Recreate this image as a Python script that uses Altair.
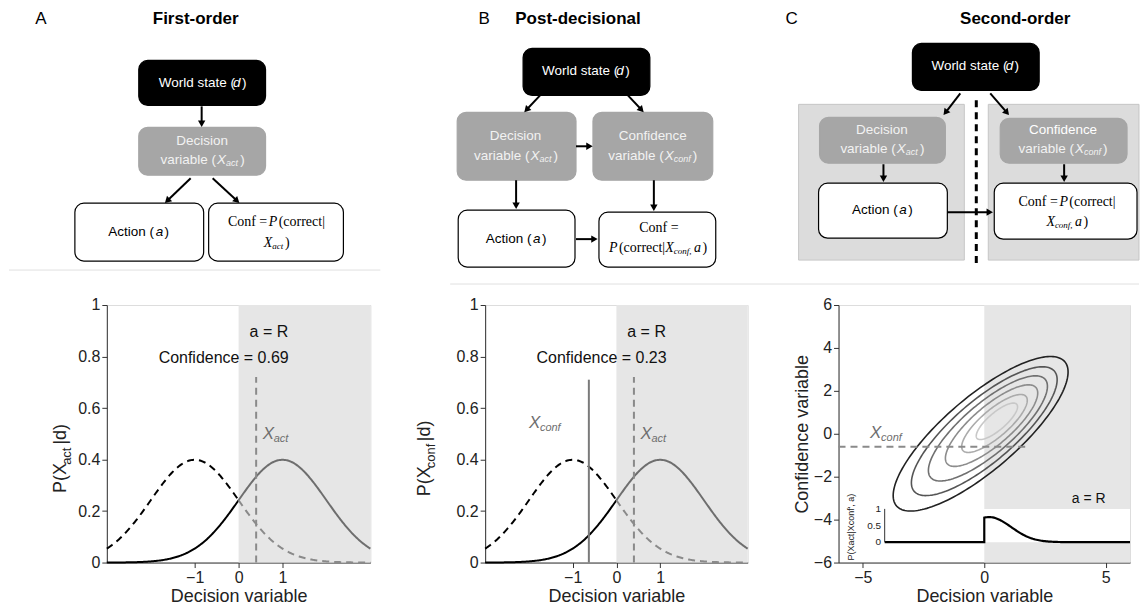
import altair as alt
import numpy as np
import pandas as pd
import math

FONT = "Liberation Sans"
SERIF = "Liberation Serif"

# ---------------- data ----------------
mu_R, mu_L, sd = 1.0, -1.0, 1.0
xact_A = 0.4
conf_A = "Confidence = 0.69"
conf_B = "Confidence = 0.23"
xconf_B = -0.63
xact_B = 0.4
yticks = [0, 0.2, 0.4, 0.6, 0.8, 1]
xticks_AB = [-1, 0, 1]
xticks_C = [-5, 0, 5]
yticks_C = [-6, -4, -2, 0, 2, 4, 6]
rho = 0.8
ell_r = [3.6, 3.0, 2.45, 1.9, 1.35, 0.85]
ell_cx = [-0.15, 0.0, 0.15, 0.3, 0.42, 0.52]
ell_cy = [0.0, 0.12, 0.25, 0.38, 0.48, 0.58]
ell_col = ["#222222", "#555555", "#707070", "#8c8c8c", "#ababab", "#c8c8c8"]
xconf_C = -0.6
post_mu, post_sd = 0.2, 0.9
inset_ticks = [0, 0.5, 1]

# ---------------- top diagrams (page pixel space) ----------------
boxes = pd.DataFrame([
    dict(x=138, x2=265, y=60, y2=105, fill="#000000", stroke="#000000"),
    dict(x=138, x2=265, y=127, y2=175, fill="#a6a6a6", stroke="#a6a6a6"),
    dict(x=74, x2=203, y=203, y2=261, fill="#ffffff", stroke="#000000"),
    dict(x=208, x2=343, y=203, y2=261, fill="#ffffff", stroke="#000000"),
    dict(x=523, x2=650, y=48, y2=95, fill="#000000", stroke="#000000"),
    dict(x=457, x2=576, y=112, y2=180, fill="#a6a6a6", stroke="#a6a6a6"),
    dict(x=593, x2=713, y=112, y2=180, fill="#a6a6a6", stroke="#a6a6a6"),
    dict(x=458, x2=575, y=210, y2=267, fill="#ffffff", stroke="#000000"),
    dict(x=599, x2=716, y=212, y2=267, fill="#ffffff", stroke="#000000"),
    dict(x=913, x2=1040, y=43, y2=90, fill="#000000", stroke="#000000"),
    dict(x=820, x2=946, y=117, y2=163, fill="#a6a6a6", stroke="#a6a6a6"),
    dict(x=1001, x2=1128, y=118, y2=163, fill="#a6a6a6", stroke="#a6a6a6"),
    dict(x=819, x2=948, y=183, y2=238, fill="#ffffff", stroke="#000000"),
    dict(x=995, x2=1138, y=183, y2=239, fill="#ffffff", stroke="#000000"),
])
panels = pd.DataFrame([
    dict(x=799, x2=965, y=104, y2=260),
    dict(x=989, x2=1140, y=104, y2=260),
])
arrows = [
    (201, 106, 201, 127), (190, 178, 164, 203), (212, 178, 239, 203),
    (540, 95, 524, 112), (628, 95, 644, 112), (576, 146, 593, 146),
    (516, 180, 516, 209), (654, 180, 654, 211), (576, 239, 598, 239),
    (961, 93, 944, 115), (991, 93, 1010, 115), (884, 164, 884, 182),
    (1065, 164, 1065, 182), (948, 212, 994, 212),
]
rules_rows, heads = [], []
for (x1, y1, x2, y2) in arrows:
    dx, dy = x2 - x1, y2 - y1
    L = np.hypot(dx, dy)
    ux, uy = dx / L, dy / L
    hx, hy = x2 - 3.5 * ux, y2 - 3.5 * uy
    rules_rows.append(dict(x=x1, y=y1, x2=hx, y2=hy))
    ang = (np.degrees(np.arctan2(dx, -dy)) + 360) % 360
    heads.append(dict(x=hx, y=hy, angle=float(ang)))
arrows_df = pd.DataFrame(rules_rows)
heads_df = pd.DataFrame(heads)


def twidth(t, s, font):
    w = 0.0
    for ch in t:
        if ch in "il|.,':;!":
            w += 0.25
        elif ch in "()":
            w += 0.34
        elif ch in "ftjr ":
            w += 0.3
        elif ch in "=":
            w += 0.58
        elif ch.isupper():
            w += 0.67
        elif ch in "mw":
            w += 0.8
        else:
            w += 0.55
    if font == SERIF:
        w *= 0.9
    return w * s


def seg_text(cx, cy, segs, color, font):
    widths = []
    for i, (t, s, it, dy) in enumerate(segs):
        nxt_it = i + 1 < len(segs) and segs[i + 1][2]
        gap = 1.5 if (it and not nxt_it) else 0
        widths.append(twidth(t, s, font) + gap)
    x = cx - sum(widths) / 2
    out = []
    for (t, s, it, dy), w in zip(segs, widths):
        out.append(dict(x=x, y=cy + dy, text=t, size=s,
                        style="italic" if it else "normal", color=color, font=font))
        x += w
    return out


txt = []
W_, S_ = "#ffffff", "#000000"
for cx, cy in [(202, 83), (586, 71), (976, 66)]:
    txt += seg_text(cx, cy, [("World state (", 13.5, False, 0), ("d", 13.5, True, 0), (")", 13.5, False, 0)], W_, FONT)
for cx, cy in [(202, 141), (516, 136), (883, 130)]:
    txt += seg_text(cx, cy, [("Decision", 13.5, False, 0)], "#f2f2f2", FONT)
for cx, cy in [(202, 160), (516, 156), (883, 149)]:
    txt += seg_text(cx, cy, [("variable (", 13.5, False, 0), ("X", 13.5, True, 0),
                             ("act", 9, True, 3), (")", 13.5, False, 0)], "#f2f2f2", FONT)
txt += seg_text(653, 136, [("Confidence", 13.5, False, 0)], "#f2f2f2", FONT)
txt += seg_text(1064, 130, [("Confidence", 13.5, False, 0)], "#ffffff", FONT)
for cx, cy in [(653, 156), (1064, 149)]:
    txt += seg_text(cx, cy, [("variable (", 13.5, False, 0), ("X", 13.5, True, 0),
                             ("conf", 9, True, 3), (")", 13.5, False, 0)], "#f2f2f2", FONT)
for cx, cy in [(138, 232), (516, 239), (883, 210)]:
    txt += seg_text(cx, cy, [("Action (", 13.5, False, 0), ("a", 13.5, True, 0), (")", 13.5, False, 0)], S_, FONT)
txt += seg_text(276, 222, [("Conf = ", 14, False, 0), ("P", 14, True, 0), ("(correct|", 14, False, 0)], S_, SERIF)
txt += seg_text(276, 243, [("X", 14, True, 0), ("act", 9, True, 3), (")", 14, False, 0)], S_, SERIF)
txt += seg_text(658, 228, [("Conf =", 14, False, 0)], S_, SERIF)
txt += seg_text(658, 248, [("P", 14, True, 0), ("(correct|", 14, False, 0), ("X", 14, True, 0),
                           ("conf, ", 9, True, 3), ("a", 14, True, 0), (")", 14, False, 0)], S_, SERIF)
txt += seg_text(1068, 202, [("Conf = ", 14, False, 0), ("P", 14, True, 0), ("(correct|", 14, False, 0)], S_, SERIF)
txt += seg_text(1068, 222, [("X", 14, True, 0), ("conf, ", 9, True, 3), ("a", 14, True, 0), (")", 14, False, 0)], S_, SERIF)
txt_df = pd.DataFrame(txt)

titles_df = pd.DataFrame([
    dict(x=195, y=18, text="First-order", size=17, w="bold"),
    dict(x=578, y=18, text="Post-decisional", size=17, w="bold"),
    dict(x=1016, y=18, text="Second-order", size=17, w="bold"),
    dict(x=40, y=18, text="A", size=17, w="normal"),
    dict(x=484, y=18, text="B", size=17, w="normal"),
    dict(x=792, y=18, text="C", size=17, w="normal"),
])

X = alt.X("x:Q", scale=alt.Scale(domain=[8, 1140], nice=False), axis=None)
Y = alt.Y("y:Q", scale=alt.Scale(domain=[8, 290], reverse=True, nice=False), axis=None)

top_layers = [
    alt.Chart(panels).mark_rect(fill="#dcdcdc", stroke="#c6c6c6").encode(X, Y, x2="x2:Q", y2="y2:Q"),
    alt.Chart(pd.DataFrame([dict(x=450, y=284, x2=1140, y2=284), dict(x=8, y=270, x2=380, y2=270)]))
    .mark_rule(color="#e0e0e0", strokeWidth=1).encode(X, Y, x2="x2:Q", y2="y2:Q"),
    alt.Chart(pd.DataFrame([dict(x=977, y=100, x2=977, y2=268)]))
    .mark_rule(color="#000000", strokeWidth=3, strokeDash=[7, 5]).encode(X, Y, x2="x2:Q", y2="y2:Q"),
    alt.Chart(boxes).mark_rect(cornerRadius=9, strokeWidth=1.2).encode(
        X, Y, x2="x2:Q", y2="y2:Q",
        fill=alt.Fill("fill:N", scale=None), stroke=alt.Stroke("stroke:N", scale=None)),
    alt.Chart(arrows_df).mark_rule(color="#000", strokeWidth=2).encode(X, Y, x2="x2:Q", y2="y2:Q"),
    alt.Chart(heads_df).mark_point(shape="triangle-up", filled=True, color="#000", size=55, opacity=1)
    .encode(X, Y, angle=alt.Angle("angle:Q", scale=None)),
]
for (font, style), g in txt_df.groupby(["font", "style"]):
    top_layers.append(
        alt.Chart(g).mark_text(font=font, fontStyle=style, align="left", baseline="middle").encode(
            X, Y, text="text:N", size=alt.Size("size:Q", scale=None),
            color=alt.Color("color:N", scale=None)))
for w, g in titles_df.groupby("w"):
    top_layers.append(
        alt.Chart(g).mark_text(font=FONT, fontWeight=w, align="center", baseline="middle").encode(
            X, Y, text="text:N", size=alt.Size("size:Q", scale=None)))
top = alt.layer(*top_layers).properties(width=1132, height=282, view=alt.ViewConfig(stroke="transparent", strokeWidth=0))

# ---------------- bottom plots ----------------
xs = np.round(np.arange(-3, 3.0001, 0.02), 3)


def npdf(x, m):
    return np.exp(-0.5 * ((x - m) / sd) ** 2) / (sd * np.sqrt(2 * np.pi))


rows = []
for name, m in [("R", mu_R), ("L", mu_L)]:
    for part, sel in [("a", xs <= 0), ("b", xs >= 0)]:
        for x in xs[sel]:
            rows.append(dict(x=float(x), y=float(npdf(x, m)), c=name + part))
cdf = pd.DataFrame(rows)
col_map = {"Ra": "#000000", "Rb": "#6e6e6e", "La": "#000000", "Lb": "#8a8a8a"}

XS = alt.Scale(domain=[-3, 3], nice=False)
YS = alt.Scale(domain=[0, 1], nice=False)
axis_style = dict(labelFont=FONT, labelFontSize=16, labelColor="#222", domainColor="#333",
                  tickColor="#333", grid=False, titleFont=FONT, titleFontSize=18,
                  titleColor="#222", titleFontWeight="normal", titlePadding=2)
PH = 258


def ytitle(parts, xoff, ycen):
    k = 0.52
    total = sum(len(t) * s * k for t, s, d in parts)
    ypos = ycen + total / 2
    layers = []
    for t, s, d in parts:
        layers.append(alt.Chart(pd.DataFrame([dict(t=t)])).mark_text(
            font=FONT, fontSize=s, angle=270, align="left", baseline="middle", color="#222").encode(
            x=alt.value(xoff + d), y=alt.value(ypos), text="t:N"))
        ypos -= len(t) * s * k
    return layers


def xlabel(xv, yv, sub, color="#6e6e6e"):
    d = pd.DataFrame([dict(x=xv, y=yv)])
    return [
        alt.Chart(d).mark_text(font=FONT, fontStyle="italic", fontSize=17, align="left", color=color)
        .encode(x="x:Q", y="y:Q", text=alt.value("X")),
        alt.Chart(d).mark_text(font=FONT, fontStyle="italic", fontSize=11, align="left", color=color, dx=11, dy=5)
        .encode(x="x:Q", y="y:Q", text=alt.value(sub)),
    ]


def dist_panel(xact, conf, sub, title_x, extra):
    shade = alt.Chart(pd.DataFrame([dict(x=0, x2=3, y=0, y2=1)])).mark_rect(color="#e6e6e6").encode(
        x=alt.X("x:Q", scale=XS, axis=alt.Axis(values=xticks_AB, title="Decision variable", **axis_style)),
        x2="x2:Q",
        y=alt.Y("y:Q", scale=YS, axis=alt.Axis(values=yticks, format="~g", title=None, **axis_style)),
        y2="y2:Q")
    lines = []
    for c in ["Ra", "Rb"]:
        lines.append(alt.Chart(cdf[cdf.c == c]).mark_line(color=col_map[c], strokeWidth=2).encode(
            x="x:Q", y="y:Q", order="x:Q"))
    for c in ["La", "Lb"]:
        lines.append(alt.Chart(cdf[cdf.c == c]).mark_line(color=col_map[c], strokeWidth=2, strokeDash=[7, 5]).encode(
            x="x:Q", y="y:Q", order="x:Q"))
    vline = alt.Chart(pd.DataFrame([dict(x=xact, y=0, y2=0.72)])).mark_rule(
        color="#8a8a8a", strokeWidth=2, strokeDash=[7, 5]).encode(x="x:Q", y="y:Q", y2="y2:Q")
    texts = alt.Chart(pd.DataFrame([dict(x=0.69, y=0.895, t="a = R"), dict(x=-0.34, y=0.795, t=conf)])).mark_text(
        font=FONT, fontSize=16, color="#111", align="center", baseline="middle").encode(x="x:Q", y="y:Q", text="t:N")
    layers = [shade] + lines + [vline] + extra + [texts] + xlabel(0.55, 0.5, "act") + \
        ytitle([("P(X", 18, 0), (sub, 13, 6), ("|d)", 18, 0)], title_x, 150)
    return alt.layer(*layers)


A = dist_panel(xact_A, conf_A, "act", -46, []).properties(width=264, height=PH)
extraB = [alt.Chart(pd.DataFrame([dict(x=xconf_B, y=0, y2=0.71)])).mark_rule(color="#7a7a7a", strokeWidth=2)
          .encode(x="x:Q", y="y:Q", y2="y2:Q")] + xlabel(-2.0, 0.54, "conf")
B = dist_panel(xact_B, conf_B, "conf", -60, extraB).properties(width=263, height=PH)

# panel C
CXS = alt.Scale(domain=[-6, 6], nice=False)
CYS = alt.Scale(domain=[-6, 6], nice=False)
shadeC = alt.Chart(pd.DataFrame([dict(x=0, x2=6, y=-3.5, y2=6), dict(x=0, x2=6, y=-6, y2=-5.05)])).mark_rect(
    color="#e6e6e6").encode(
    x=alt.X("x:Q", scale=CXS, axis=alt.Axis(values=xticks_C, title="Decision variable", **axis_style)),
    x2="x2:Q",
    y=alt.Y("y:Q", scale=CYS, axis=alt.Axis(values=yticks_C, title="Confidence variable", **axis_style)),
    y2="y2:Q")
t = np.linspace(0, 2 * np.pi, 181)
erows = []
for i, (r, cx, cy) in enumerate(zip(ell_r, ell_cx, ell_cy)):
    for j, tt in enumerate(t):
        ex = cx + r * np.cos(tt)
        ey = cy + r * (rho * np.cos(tt) + np.sqrt(1 - rho ** 2) * np.sin(tt))
        erows.append(dict(x=ex, y=ey, lvl=i, o=j, col=ell_col[i]))
edf = pd.DataFrame(erows)
ell = alt.Chart(edf).mark_line(strokeWidth=1.6).encode(
    x="x:Q", y="y:Q", detail="lvl:N", order="o:Q", color=alt.Color("col:N", scale=None))
hline = alt.Chart(pd.DataFrame([dict(x=-6, x2=1.8, y=xconf_C)])).mark_rule(
    color="#8a8a8a", strokeWidth=2, strokeDash=[7, 5]).encode(x="x:Q", x2="x2:Q", y="y:Q")
base_y, sc_y = -5.05, 1.55
px = np.round(np.arange(0, 6.0001, 0.05), 3)
Phi = 0.5 * (1 + math.erf(post_mu / post_sd / math.sqrt(2)))
pp = np.exp(-0.5 * ((px - post_mu) / post_sd) ** 2) / (post_sd * np.sqrt(2 * np.pi)) / Phi
prow = [dict(x=-4.1, y=base_y, o=0), dict(x=0, y=base_y, o=1)] + \
       [dict(x=float(a), y=float(base_y + sc_y * b), o=2 + k) for k, (a, b) in enumerate(zip(px, pp))]
post = alt.Chart(pd.DataFrame(prow)).mark_line(color="#000", strokeWidth=2.2).encode(x="x:Q", y="y:Q", order="o:Q")
inset_axis = alt.Chart(pd.DataFrame([dict(x=-4.1, y=base_y, y2=base_y + sc_y)])).mark_rule(
    color="#333", strokeWidth=1).encode(x="x:Q", y="y:Q", y2="y2:Q")
itk = pd.DataFrame([dict(x=-4.25, y=base_y + sc_y * v, t=f"{v:g}") for v in inset_ticks])
inset_lab = alt.Chart(itk).mark_text(font=FONT, fontSize=10, align="right", baseline="middle", color="#222").encode(
    x="x:Q", y="y:Q", text="t:N")
inset_title = alt.Chart(pd.DataFrame([dict(x=-5.5, y=-4.35, t="P(Xact|Xconf', a)")])).mark_text(
    font=FONT, fontSize=9, angle=270, align="center", baseline="middle", color="#222").encode(
    x="x:Q", y="y:Q", text="t:N")
aR = alt.Chart(pd.DataFrame([dict(x=4.3, y=-3.05, t="a = R")])).mark_text(
    font=FONT, fontSize=14, color="#111").encode(x="x:Q", y="y:Q", text="t:N")
C = alt.layer(shadeC, ell, hline, post, inset_axis, inset_lab, inset_title, aR,
              *xlabel(-4.7, 0.05, "conf")).properties(width=292, height=PH)

spacer = alt.Chart(pd.DataFrame([dict(a=1)])).mark_text().encode(text=alt.value("")).properties(width=2, height=PH)
bottom = alt.hconcat(spacer, A, B, C, spacing=40)

chart = alt.vconcat(top, bottom, spacing=6).configure_view(stroke="transparent", strokeWidth=0).configure(
    font=FONT, padding=0, background="white")
chart.save("out.html", embed_options={"renderer": "svg", "actions": False})
